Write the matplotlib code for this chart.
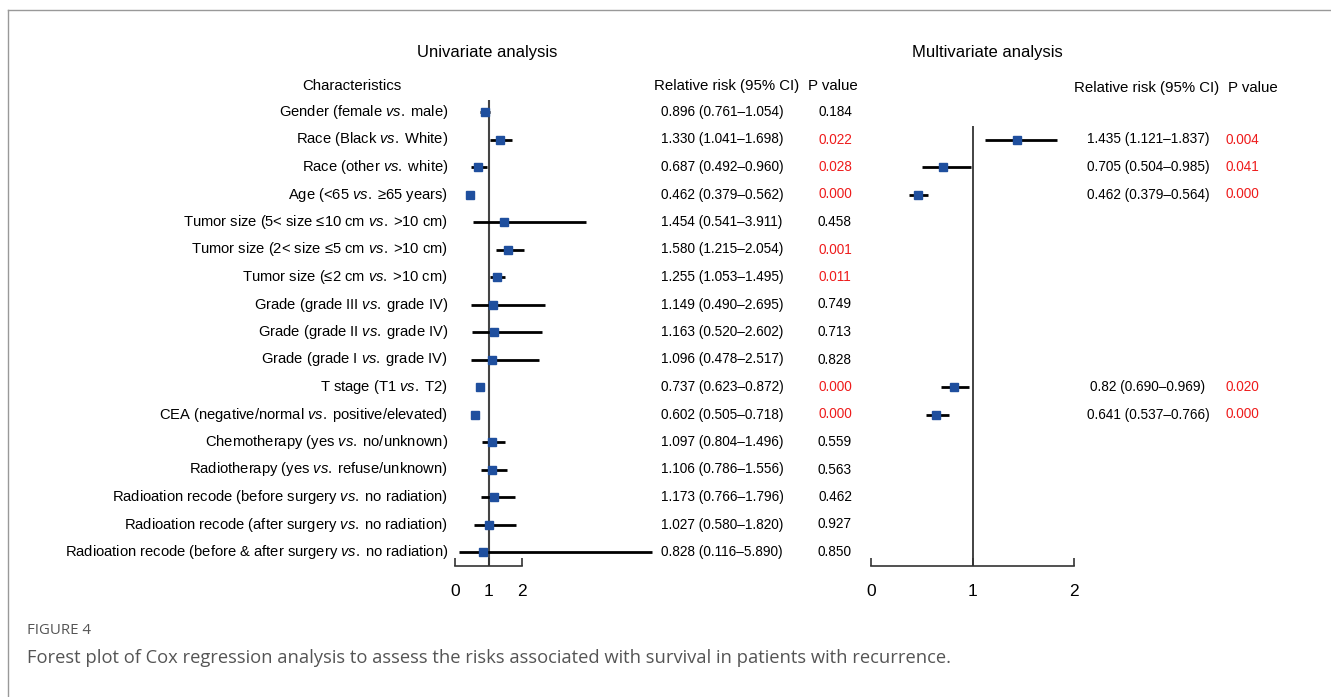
import matplotlib
matplotlib.use("Agg")
import matplotlib.pyplot as plt
from matplotlib.transforms import blended_transform_factory
from matplotlib.lines import Line2D

plt.rcParams['font.family'] = ['Liberation Sans', 'DejaVu Sans']
plt.rcParams['mathtext.fontset'] = 'custom'
plt.rcParams['mathtext.rm'] = 'Liberation Sans'
plt.rcParams['mathtext.it'] = 'Liberation Sans:italic'

VS = r"$\it{vs.}\;$"

# ---- data ----
labels = [
    "Gender (female VS male)",
    "Race (Black VS White)",
    "Race (other VS white)",
    "Age (<65 VS ≥65 years)",
    "Tumor size (5< size ≤10 cm VS >10 cm)",
    "Tumor size (2< size ≤5 cm VS >10 cm)",
    "Tumor size (≤2 cm VS >10 cm)",
    "Grade (grade III VS grade IV)",
    "Grade (grade II VS grade IV)",
    "Grade (grade I VS grade IV)",
    "T stage (T1 VS T2)",
    "CEA (negative/normal VS positive/elevated)",
    "Chemotherapy (yes VS no/unknown)",
    "Radiotherapy (yes VS refuse/unknown)",
    "Radioation recode (before surgery VS no radiation)",
    "Radioation recode (after surgery VS no radiation)",
    "Radioation recode (before & after surgery VS no radiation)",
]
uni_rr = [0.896, 1.330, 0.687, 0.462, 1.454, 1.580, 1.255, 1.149, 1.163, 1.096,
          0.737, 0.602, 1.097, 1.106, 1.173, 1.027, 0.828]
uni_lo = [0.761, 1.041, 0.492, 0.379, 0.541, 1.215, 1.053, 0.490, 0.520, 0.478,
          0.623, 0.505, 0.804, 0.786, 0.766, 0.580, 0.116]
uni_hi = [1.054, 1.698, 0.960, 0.562, 3.911, 2.054, 1.495, 2.695, 2.602, 2.517,
          0.872, 0.718, 1.496, 1.556, 1.796, 1.820, 5.890]
uni_p = [0.184, 0.022, 0.028, 0.000, 0.458, 0.001, 0.011, 0.749, 0.713, 0.828,
         0.000, 0.000, 0.559, 0.563, 0.462, 0.927, 0.850]

mv_rows = [1, 2, 3, 10, 11]
mv_rr_text = ["1.435", "0.705", "0.462", "0.82", "0.641"]
mv_lo = [1.121, 0.504, 0.379, 0.690, 0.537]
mv_hi = [1.837, 0.985, 0.564, 0.969, 0.766]
mv_p = [0.004, 0.041, 0.000, 0.020, 0.000]

W, H = 1331, 697
fig = plt.figure(figsize=(W / 100, H / 100), dpi=100)


def fx(px):
    return px / W


def fy(py):
    return 1 - py / H


row0, step = 112, 27.5
n = len(labels)


def yrow(py):
    return (py - row0) / step


box_top, box_bot = 80, 566
ylim = (yrow(box_bot), yrow(box_top))

# univariate axes: 0 -> 455 px, 33.5 px per unit
ax1 = fig.add_axes([fx(455), fy(box_bot), fx(6 * 33.5), (box_bot - box_top) / H])
# multivariate axes: 0 -> 871 px, 101.5 px per unit
ax2 = fig.add_axes([fx(871), fy(box_bot), fx(2 * 101.5), (box_bot - box_top) / H])

blue = '#1f4f9e'
for ax, xmax in ((ax1, 6), (ax2, 2)):
    ax.set_xlim(0, xmax)
    ax.set_ylim(*ylim)
    ax.patch.set_visible(False)
    for s in ('top', 'right', 'left'):
        ax.spines[s].set_visible(False)
    ax.spines['bottom'].set_bounds(0, 2)
    ax.spines['bottom'].set_linewidth(1.2)
    ax.spines['bottom'].set_color('#333333')
    ax.set_yticks([])
    ax.set_xticks([0, 1, 2])
    ax.set_xticklabels(['0', '1', '2'])
    ax.tick_params(axis='x', direction='in', length=6, width=1.2, color='#333333',
                   labelsize=12.5, pad=13)

# univariate
ax1.vlines(1, yrow(100), ylim[0], color='#444444', lw=1.5, zorder=1)
rows = list(range(n))
ax1.hlines(rows, uni_lo, uni_hi, color='black', lw=2, zorder=2, clip_on=False)
ax1.plot(uni_rr, rows, 's', color=blue, ms=5.5, zorder=3, clip_on=False)

# multivariate
ax2.vlines(1, yrow(126), ylim[0], color='#222222', lw=1.2, zorder=1)
mv_rr = [float(v) for v in mv_rr_text]
ax2.hlines(mv_rows, mv_lo, mv_hi, color='black', lw=2, zorder=2)
ax2.plot(mv_rr, mv_rows, 's', color=blue, ms=5.5, zorder=3)

# text columns
tr = blended_transform_factory(fig.transFigure, ax1.transData)
fs = 9.8      # numbers
fl = 10.6     # row labels
fh = 10.8     # column headers
red = '#ee1c1c'
for i in range(n):
    fig.text(fx(448), i, labels[i].replace(" VS ", " " + VS), transform=tr,
             ha='right', va='center', fontsize=fl)
    fig.text(fx(722), i, "%.3f (%.3f–%.3f)" % (uni_rr[i], uni_lo[i], uni_hi[i]),
             transform=tr, ha='center', va='center', fontsize=fs)
    fig.text(fx(835), i, "%.3f" % uni_p[i], transform=tr, ha='center', va='center',
             fontsize=fs, color=red if uni_p[i] < 0.05 else 'black')
for r, t, lo, hi, p in zip(mv_rows, mv_rr_text, mv_lo, mv_hi, mv_p):
    fig.text(fx(1148), r, "%s (%.3f–%.3f)" % (t, lo, hi), transform=tr,
             ha='center', va='center', fontsize=fs)
    fig.text(fx(1242), r, "%.3f" % p, transform=tr, ha='center', va='center',
             fontsize=fs, color=red if p < 0.05 else 'black')

# headers
fig.text(fx(487), fy(53), "Univariate analysis", ha='center', va='center', fontsize=12)
fig.text(fx(987), fy(53), "Multivariate analysis", ha='center', va='center', fontsize=12)
fig.text(fx(352), fy(86), "Characteristics", ha='center', va='center', fontsize=fh)
fig.text(fx(727), fy(86), "Relative risk (95% CI)", ha='center', va='center', fontsize=fh)
fig.text(fx(833), fy(86), "P value", ha='center', va='center', fontsize=fh)
fig.text(fx(1147), fy(88), "Relative risk (95% CI)", ha='center', va='center', fontsize=fh)
fig.text(fx(1253), fy(88), "P value", ha='center', va='center', fontsize=fh)

# caption
fig.text(fx(27), fy(631), "FIGURE 4", ha='left', va='center', fontsize=10.8,
         color='#555555', family='Open Sans')
fig.text(fx(27), fy(658),
         "Forest plot of Cox regression analysis to assess the risks associated with "
         "survival in patients with recurrence.",
         ha='left', va='center', fontsize=13.2, color='#555555', family='Open Sans')

# frame
fig.add_artist(Line2D([fx(8), 1], [fy(10), fy(10)], color='#999999', lw=1))
fig.add_artist(Line2D([fx(8), fx(8)], [fy(10), 0], color='#999999', lw=1))

fig.savefig('out.png', dpi=100)
